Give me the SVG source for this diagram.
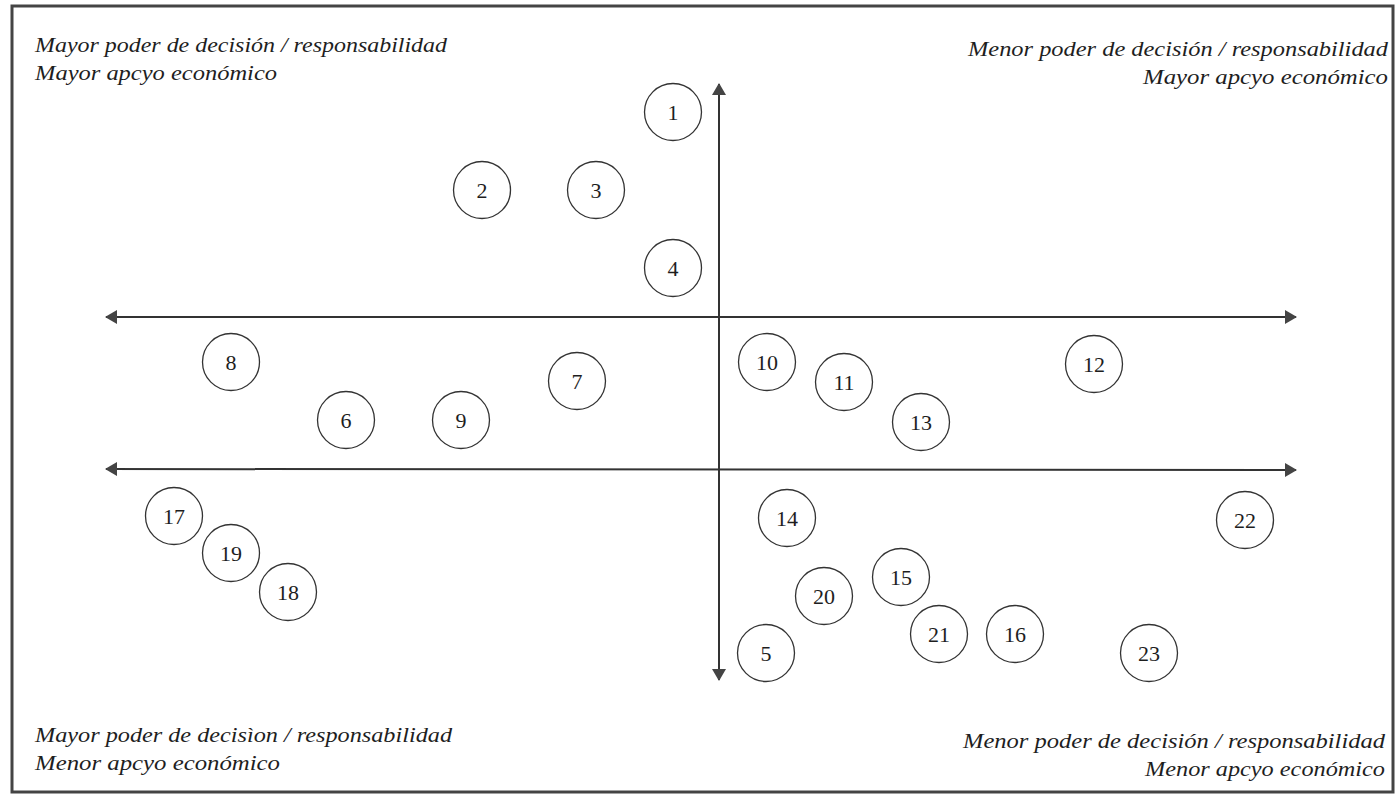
<svg xmlns="http://www.w3.org/2000/svg" width="1395" height="796" viewBox="0 0 1395 796">
<style>
.lbl{font-family:'Liberation Serif','Times New Roman',Times,serif;font-style:italic;font-size:20px;fill:#1e1e1e}
.r{text-anchor:end}
.nd circle{fill:#fff;stroke:#333;stroke-width:1.3}
.nd text{font-family:'Liberation Serif','Times New Roman',Times,serif;font-size:22px;fill:#1e1e1e;text-anchor:middle;dominant-baseline:central}
.ax{stroke:#333;stroke-width:2;fill:none}
</style>
<defs>
<marker id="ah" viewBox="0 0 12 14" refX="11" refY="7" markerWidth="12" markerHeight="14" markerUnits="userSpaceOnUse" orient="auto-start-reverse">
<path d="M0,0 L12,7 L0,14 Z" fill="#444"/>
</marker>
</defs>
<rect x="0" y="0" width="1395" height="796" fill="#fff"/>
<rect x="12" y="6" width="1381" height="786" fill="none" stroke="#444" stroke-width="3"/>
<g id="labels">
<text class="lbl" x="35" y="52" textLength="412" lengthAdjust="spacingAndGlyphs">Mayor poder de decisión / responsabilidad</text>
<text class="lbl" x="35" y="80" textLength="242" lengthAdjust="spacingAndGlyphs">Mayor apcyo económico</text>
<text class="lbl r" x="1388" y="56" textLength="420" lengthAdjust="spacingAndGlyphs">Menor poder de decisión / responsabilidad</text>
<text class="lbl r" x="1388" y="84" textLength="245" lengthAdjust="spacingAndGlyphs">Mayor apcyo económico</text>
<text class="lbl" x="35" y="742" textLength="417" lengthAdjust="spacingAndGlyphs">Mayor poder de decisìon / responsabilidad</text>
<text class="lbl" x="35" y="770" textLength="245" lengthAdjust="spacingAndGlyphs">Menor apcyo económico</text>
<text class="lbl r" x="1385" y="748" textLength="422" lengthAdjust="spacingAndGlyphs">Menor poder de decisión / responsabilidad</text>
<text class="lbl r" x="1385" y="776" textLength="240" lengthAdjust="spacingAndGlyphs">Menor apcyo económico</text>
</g>
<g id="connectors">
<line class="ax" x1="719" y1="680" x2="719" y2="84" marker-start="url(#ah)" marker-end="url(#ah)"/>
<line class="ax" x1="106" y1="317" x2="1296" y2="317" marker-start="url(#ah)" marker-end="url(#ah)"/>
<line class="ax" x1="106" y1="469" x2="1296" y2="470" marker-start="url(#ah)" marker-end="url(#ah)"/>
</g>
<g id="n1" class="nd"><circle cx="673" cy="112" r="28.5"/><text x="673" y="112">1</text></g>
<g id="n2" class="nd"><circle cx="482" cy="190" r="28.5"/><text x="482" y="190">2</text></g>
<g id="n3" class="nd"><circle cx="596" cy="190" r="28.5"/><text x="596" y="190">3</text></g>
<g id="n4" class="nd"><circle cx="673" cy="268" r="28.5"/><text x="673" y="268">4</text></g>
<g id="n8" class="nd"><circle cx="231" cy="362" r="28.5"/><text x="231" y="362">8</text></g>
<g id="n7" class="nd"><circle cx="577" cy="381" r="28.5"/><text x="577" y="381">7</text></g>
<g id="n6" class="nd"><circle cx="346" cy="420" r="28.5"/><text x="346" y="420">6</text></g>
<g id="n9" class="nd"><circle cx="461" cy="420" r="28.5"/><text x="461" y="420">9</text></g>
<g id="n10" class="nd"><circle cx="767" cy="362" r="28.5"/><text x="767" y="362">10</text></g>
<g id="n11" class="nd"><circle cx="844" cy="382" r="28.5"/><text x="844" y="382">11</text></g>
<g id="n12" class="nd"><circle cx="1094" cy="364" r="28.5"/><text x="1094" y="364">12</text></g>
<g id="n13" class="nd"><circle cx="921" cy="422" r="28.5"/><text x="921" y="422">13</text></g>
<g id="n17" class="nd"><circle cx="174" cy="516" r="28.5"/><text x="174" y="516">17</text></g>
<g id="n19" class="nd"><circle cx="231" cy="553" r="28.5"/><text x="231" y="553">19</text></g>
<g id="n18" class="nd"><circle cx="288" cy="592" r="28.5"/><text x="288" y="592">18</text></g>
<g id="n14" class="nd"><circle cx="787" cy="518" r="28.5"/><text x="787" y="518">14</text></g>
<g id="n15" class="nd"><circle cx="901" cy="577" r="28.5"/><text x="901" y="577">15</text></g>
<g id="n20" class="nd"><circle cx="824" cy="596" r="28.5"/><text x="824" y="596">20</text></g>
<g id="n21" class="nd"><circle cx="939" cy="634" r="28.5"/><text x="939" y="634">21</text></g>
<g id="n16" class="nd"><circle cx="1015" cy="634" r="28.5"/><text x="1015" y="634">16</text></g>
<g id="n5" class="nd"><circle cx="766" cy="653" r="28.5"/><text x="766" y="653">5</text></g>
<g id="n23" class="nd"><circle cx="1149" cy="653" r="28.5"/><text x="1149" y="653">23</text></g>
<g id="n22" class="nd"><circle cx="1245" cy="520" r="28.5"/><text x="1245" y="520">22</text></g>
</svg>
